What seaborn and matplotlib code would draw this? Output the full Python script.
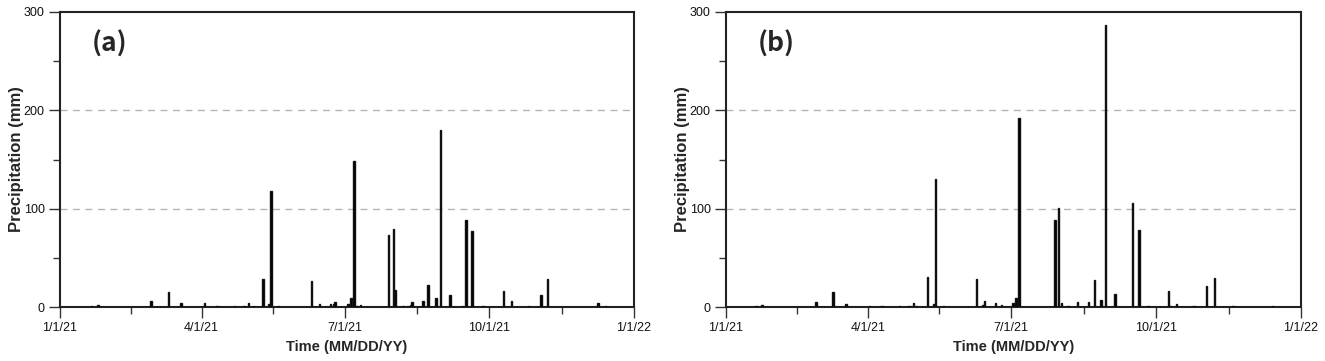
import numpy as np
import pandas as pd
import matplotlib
matplotlib.use("Agg")
import matplotlib.pyplot as plt
import seaborn as sns

# ---------------- data (days since 1/1/21, precipitation mm) ----------------
days_a = [20, 24, 58, 69, 77, 92, 100, 111, 117, 120, 123, 129, 133, 134, 139,
          160, 165, 172, 174, 175, 183, 185, 187, 189, 191, 209, 212, 213, 218,
          221, 223, 224, 231, 234, 239, 242, 248, 256, 258, 262, 269, 282, 287,
          298, 306, 310, 342, 347]
precip_a = [1, 2, 6.4, 15, 3.7, 4, 1, 1, 1.5, 4, 1, 28, 3, 117.5, 1,
            26.8, 3, 3, 3, 5, 3.4, 8.8, 148, 1, 2, 73.6, 79.4, 17.3, 1,
            1, 2, 5, 6.4, 22.4, 9.2, 180.4, 12.2, 1, 88.8, 77.6, 1, 16.6, 5.8,
            1, 12.2, 28.1, 3.7, 1]

days_b = [19, 23, 57, 68, 76, 91, 99, 110, 116, 119, 121, 128, 132, 133, 138,
          159, 163, 164, 171, 175, 182, 184, 186, 209, 211, 213, 217, 223, 230,
          234, 238, 241, 247, 258, 262, 268, 281, 282, 286, 297, 305, 310, 322, 347]
precip_b = [1, 2.4, 5.4, 15.6, 3.4, 1.3, 1, 1, 1.5, 4, 1.5, 30.2, 2.7, 130, 1,
            28.5, 2, 6.4, 3.7, 2.3, 4, 9.2, 192.6, 88, 100.4, 4.4, 1, 5, 5,
            27.8, 7.5, 287, 13.2, 106, 78.7, 1, 16.3, 1, 3, 1, 21, 29.2, 1, 1]

tick_days = [0, 90, 181, 273, 365]
tick_labels = ["1/1/21", "4/1/21", "7/1/21", "10/1/21", "1/1/22"]
minor_days = [45, 135.5, 227, 319]
panel_labels = ["(a)", "(b)"]

# ---------------- style ----------------
sns.set_style("ticks")
plt.rcParams["font.family"] = ["Liberation Sans", "DejaVu Sans"]

fig = plt.figure(figsize=(13.25, 3.61), dpi=100)
ax_a = fig.add_axes([60 / 1325, 1 - 307 / 361, 574 / 1325, 295 / 361])
ax_b = fig.add_axes([726 / 1325, 1 - 307 / 361, 575 / 1325, 295 / 361])

for ax, d, p, lab in [(ax_a, days_a, precip_a, panel_labels[0]),
                      (ax_b, days_b, precip_b, panel_labels[1])]:
    df = pd.DataFrame({"day": d, "precip": p})
    sns.histplot(data=df, x="day", weights="precip", discrete=True, ax=ax,
                 color="black", edgecolor="#111111", linewidth=1.0, alpha=1.0,
                 zorder=3)
    ax.set_xlim(0, 365)
    ax.set_ylim(0, 300)
    ax.set_xticks(tick_days)
    ax.set_xticklabels(tick_labels)
    ax.set_xticks(minor_days, minor=True)
    ax.set_yticks([0, 100, 200, 300])
    ax.set_yticks([50, 150, 250], minor=True)
    ax.tick_params(axis="both", which="major", length=8, width=1.0,
                   labelsize=9, color="#333333", labelcolor="#111111", pad=3)
    ax.tick_params(axis="both", which="minor", length=5, width=1.0,
                   color="#333333")
    for y in [100, 200]:
        ax.axhline(y, color="#b5b5b5", linestyle=(0, (5, 4)), linewidth=1.0,
                   zorder=1)
    for s in ax.spines.values():
        s.set_linewidth(1.5)
        s.set_color("#222222")
        s.set_visible(True)
    ax.set_xlabel("Time (MM/DD/YY)", fontsize=10.5, fontweight="bold",
                  labelpad=4)
    ax.set_ylabel("Precipitation (mm)", fontsize=12, fontweight="bold",
                  labelpad=0)
    ax.text(0.087, 0.89, lab, transform=ax.transAxes, ha="center", va="center",
            fontsize=19, fontweight="black",
            family=["Noto Sans CJK KR", "DejaVu Sans"])

fig.savefig("out.png", dpi=100)
